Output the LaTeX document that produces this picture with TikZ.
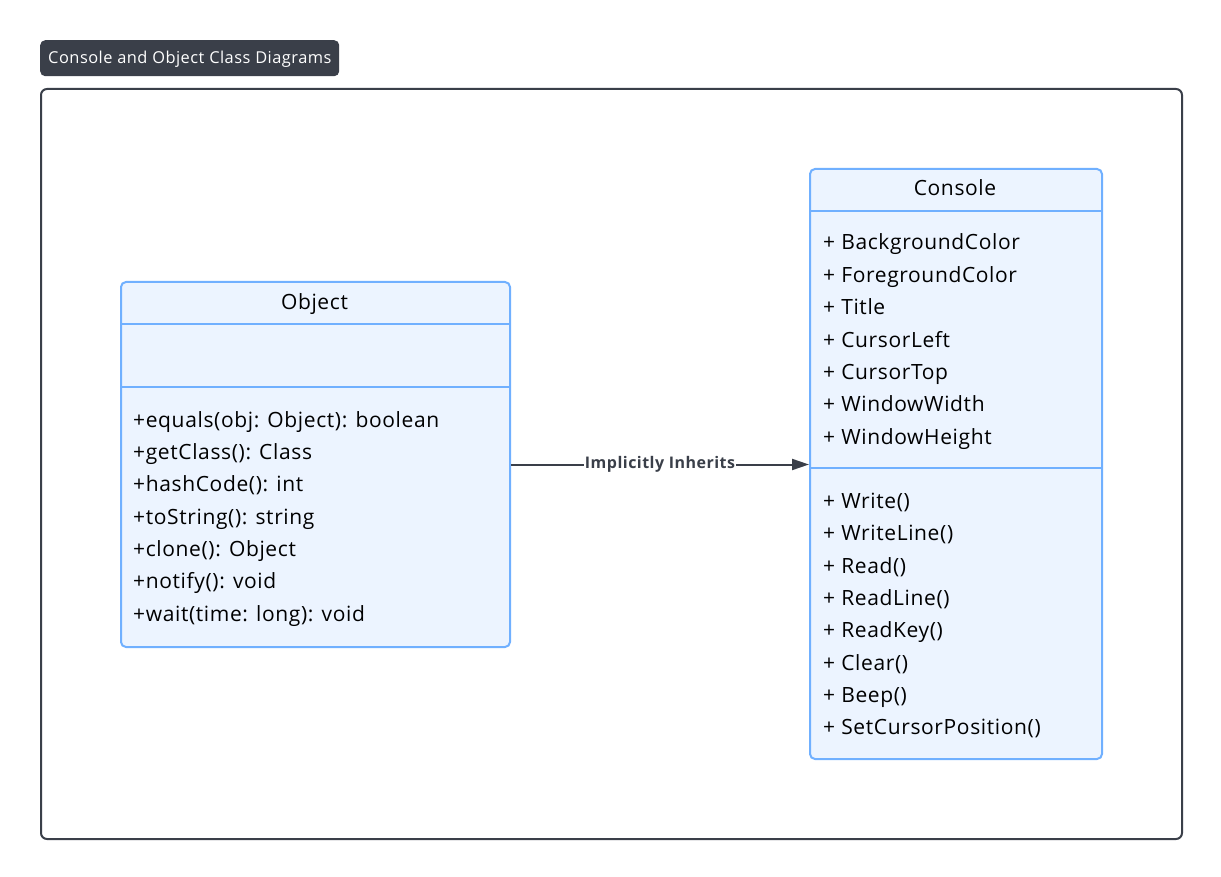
\documentclass[tikz,border=0pt]{standalone}
\usepackage{fontspec}
\setmainfont{Open Sans}[LetterSpace=3]
\usetikzlibrary{arrows.meta}
\definecolor{darkc}{HTML}{3A3F49}
\definecolor{boxfill}{HTML}{ECF4FF}
\definecolor{boxline}{HTML}{70B0FF}
\tikzset{
  classbox/.style={draw=boxline, fill=boxfill, line width=2pt, rounded corners=5pt, anchor=north west, inner sep=0pt},
  divider/.style={draw=boxline, line width=2pt},
  member/.style={anchor=base west, inner sep=0pt, font=\fontsize{21}{25}\selectfont, text=black},
  ctitle/.style={anchor=base, inner sep=0pt, font=\fontsize{21}{25}\selectfont, text=black},
  arr/.style={draw=darkc, line width=2pt, -{Triangle[length=17pt,width=11pt]}},
  elabel/.style={fill=white, inner sep=1pt, font=\fontsize{16}{19}\selectfont\bfseries, text=darkc},
}
\begin{document}
\begin{tikzpicture}[x=1pt,y=-1pt]
\useasboundingbox (0,0) rectangle (1221,877);
\fill[white] (0,0) rectangle (1221,877);
% title tag
\node[fill=darkc, rounded corners=5pt, anchor=north west, minimum width=299pt, minimum height=36pt, inner sep=0pt] (tag) at (40,40) {};
\node[anchor=base west, inner sep=0pt, text=white, font=\fontsize{16.4}{19}\selectfont] (tagtext) at (48,64) {Console and Object Class Diagrams};
% frame
\node[draw=darkc, line width=2pt, rounded corners=6pt, anchor=north west, minimum width=1141pt, minimum height=750pt, inner sep=0pt] (frame) at (40,88) {};
% Object class
\node[classbox, minimum width=389pt, minimum height=365pt] (obj) at (120,281) {};
\draw[divider] (120,324) -- (509,324);
\draw[divider] (120,387) -- (509,387);
\node[ctitle] (objtitle) at (314.5,309) {Object};
\foreach \t [count=\i] in {{+equals(obj: Object): boolean},{+getClass(): Class},{+hashCode(): int},{+toString(): string},{+clone(): Object},{+notify(): void},{+wait(time: long): void}}
  \node[member] (om\i) at (133,{427+(\i-1)*32.35}) {\t};
% Console class
\node[classbox, minimum width=292pt, minimum height=590pt] (con) at (809,168) {};
\draw[divider] (809,211) -- (1101,211);
\draw[divider] (809,468) -- (1101,468);
\node[ctitle] (contitle) at (955,196) {Console};
\foreach \t [count=\i] in {{+ BackgroundColor},{+ ForegroundColor},{+ Title},{+ CursorLeft},{+ CursorTop},{+ WindowWidth},{+ WindowHeight}}
  \node[member] (ca\i) at (823,{250+(\i-1)*32.35}) {\t};
\foreach \t [count=\i] in {{+ Write()},{+ WriteLine()},{+ Read()},{+ ReadLine()},{+ ReadKey()},{+ Clear()},{+ Beep()},{+ SetCursorPosition()}}
  \node[member] (cm\i) at (823,{508.5+(\i-1)*32.35}) {\t};
% inheritance
\draw[arr] (obj.east) -- (con.west |- obj.east) node[elabel, midway] (lbl) {Implicitly Inherits};
\end{tikzpicture}
\end{document}
